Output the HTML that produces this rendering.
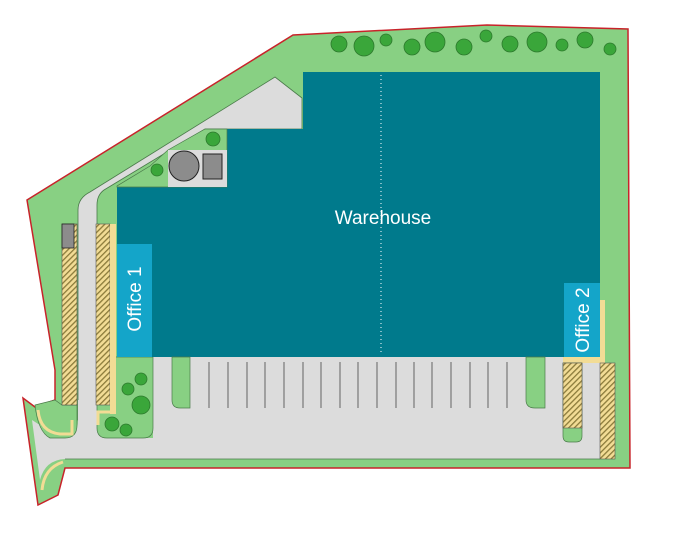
<!DOCTYPE html>
<html><head><style>body{margin:0;background:#fff}svg{display:block}</style></head><body>
<svg width="687" height="536" viewBox="0 0 687 536" xmlns="http://www.w3.org/2000/svg">
<defs><pattern id="h" width="4" height="4" patternUnits="userSpaceOnUse" patternTransform="rotate(45)"><rect width="4" height="4" fill="#f2dc95"/><rect width="1.3" height="4" fill="#8a7a3a"/></pattern></defs>
<polygon points="293,35 487,25 628,29 630,468 65,468 58,495 38,505 23,398 35,407 55,400 55,370 27,200" fill="#88d083" stroke="#c8232a" stroke-width="1.5"/>
<path d="M78,420 L78,210 Q78,198 90,192 L275,77 L302,98 L302,129 L205,129 L104,190 Q97,195 97,205 L97,420 Z" fill="#dcdcdc" stroke="#4a7a4a" stroke-width="0.8"/>
<path d="M78,400 L97,400 L97,425 Q97,438 110,438 L153,438 L153,357 L600,357 L600,459 L65,459 Q45,460 40,480 L32,420 L60,438 Q78,438 78,420 Z" fill="#dcdcdc"/>
<line x1="65" y1="459" x2="600" y2="459" stroke="#4a7a4a" stroke-width="0.8"/>
<path d="M35,405 L55,400 L62,405 L77,405 L77,425 Q77,438 65,438 L50,438 Q38,432 35,405 Z" fill="#88d083" stroke="#4a7a4a" stroke-width="0.7"/>
<path d="M38,410 Q40,432 60,434 L72,434 L72,420" fill="none" stroke="#f2dc95" stroke-width="3"/>
<path d="M42,490 Q44,468 63,462" fill="none" stroke="#f2dc95" stroke-width="3"/>
<path d="M97,357 L153,357 L153,428 Q153,438 143,438 L107,438 Q97,438 97,428 Z" fill="#88d083" stroke="#4a7a4a" stroke-width="0.7"/>
<path d="M98,425 L98,412 L110,412" fill="none" stroke="#f2dc95" stroke-width="3"/>
<g fill="#3aa63a" stroke="#2d7a2d" stroke-width="0.8">
<circle cx="128" cy="389" r="6"/><circle cx="141" cy="379" r="6"/><circle cx="141" cy="405" r="9"/><circle cx="112" cy="424" r="7"/><circle cx="126" cy="430" r="6"/>
</g>
<rect x="62" y="224" width="15" height="181" fill="url(#h)" stroke="#555" stroke-width="0.6"/>
<rect x="62" y="224" width="12" height="24" fill="#8c8c8c" stroke="#222" stroke-width="0.8"/>
<rect x="96" y="224" width="14" height="181" fill="url(#h)" stroke="#555" stroke-width="0.6"/>
<rect x="110" y="224" width="6" height="190" fill="#f2dc95"/>
<polygon points="303,72 600,72 600,357 117,357 117,187 227,187 227,129 303,129" fill="#007a8c"/>
<line x1="381" y1="75" x2="381" y2="355" stroke="#fff" stroke-width="1" stroke-dasharray="1,3"/>
<polygon points="205,129 227,129 227,187 117,187 117,186 150,166 168,150 205,129" fill="#88d083" stroke="#4a7a4a" stroke-width="0.7"/>
<rect x="168" y="150" width="59" height="37" fill="#dcdcdc"/>
<circle cx="184" cy="166" r="15" fill="#8c8c8c" stroke="#222" stroke-width="1"/>
<rect x="203" y="154" width="19" height="25" fill="#8c8c8c" stroke="#222" stroke-width="1"/>
<circle cx="213" cy="139" r="7" fill="#3aa63a" stroke="#2d7a2d" stroke-width="0.8"/>
<circle cx="157" cy="170" r="6" fill="#3aa63a" stroke="#2d7a2d" stroke-width="0.8"/>
<rect x="117" y="244" width="35" height="113" fill="#14a5c9"/>
<text transform="translate(141,299) rotate(-90)" text-anchor="middle" font-family="Liberation Sans, sans-serif" font-size="19" fill="#fff">Office 1</text>
<rect x="600" y="300" width="5" height="63" fill="#f2dc95"/>
<rect x="563" y="357" width="42" height="6" fill="#f2dc95"/>
<rect x="564" y="283" width="36" height="74" fill="#14a5c9"/>
<text transform="translate(589,320) rotate(-90)" text-anchor="middle" font-family="Liberation Sans, sans-serif" font-size="19" fill="#fff">Office 2</text>
<text x="383" y="224" text-anchor="middle" font-family="Liberation Sans, sans-serif" font-size="19" fill="#fff">Warehouse</text>
<path d="M172,357 L190,357 L190,408 L180,408 Q172,408 172,400 Z" fill="#88d083" stroke="#4a7a4a" stroke-width="0.7"/>
<path d="M526,357 L545,357 L545,408 L535,408 Q526,408 526,400 Z" fill="#88d083" stroke="#4a7a4a" stroke-width="0.7"/>
<path d="M563,363 L582,363 L582,436 Q582,442 576,442 L569,442 Q563,442 563,436 Z" fill="#88d083" stroke="#4a7a4a" stroke-width="0.7"/>
<rect x="563" y="363" width="19" height="65" fill="url(#h)" stroke="#555" stroke-width="0.6"/>
<rect x="600" y="363" width="15" height="96" fill="url(#h)" stroke="#555" stroke-width="0.6"/>
<g stroke="#555" stroke-width="0.9">
<line x1="209" y1="362" x2="209" y2="408"/><line x1="228" y1="362" x2="228" y2="408"/><line x1="247" y1="362" x2="247" y2="408"/><line x1="265" y1="362" x2="265" y2="408"/><line x1="284" y1="362" x2="284" y2="408"/><line x1="303" y1="362" x2="303" y2="408"/><line x1="321" y1="362" x2="321" y2="408"/><line x1="340" y1="362" x2="340" y2="408"/><line x1="358" y1="362" x2="358" y2="408"/><line x1="377" y1="362" x2="377" y2="408"/><line x1="396" y1="362" x2="396" y2="408"/><line x1="414" y1="362" x2="414" y2="408"/><line x1="432" y1="362" x2="432" y2="408"/><line x1="451" y1="362" x2="451" y2="408"/><line x1="470" y1="362" x2="470" y2="408"/><line x1="488" y1="362" x2="488" y2="408"/><line x1="507" y1="362" x2="507" y2="408"/>
</g>
<g fill="#3aa63a" stroke="#2d7a2d" stroke-width="0.8">
<circle cx="339" cy="44" r="8"/><circle cx="364" cy="46" r="10"/><circle cx="386" cy="40" r="6"/><circle cx="412" cy="47" r="8"/><circle cx="435" cy="42" r="10"/><circle cx="464" cy="47" r="8"/><circle cx="486" cy="36" r="6"/><circle cx="510" cy="44" r="8"/><circle cx="537" cy="42" r="10"/><circle cx="562" cy="45" r="6"/><circle cx="585" cy="40" r="8"/><circle cx="610" cy="49" r="6"/>
</g>
</svg>
</body></html>
